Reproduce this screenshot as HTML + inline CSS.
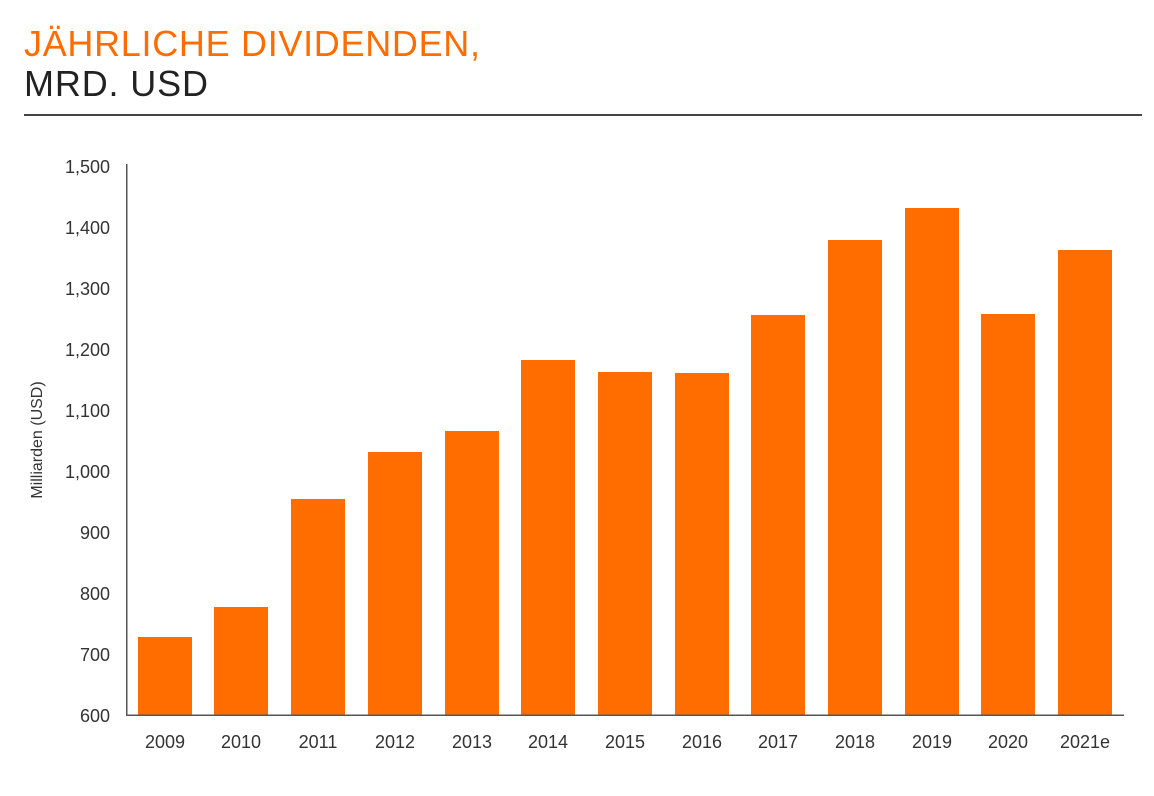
<!DOCTYPE html>
<html><head><meta charset="utf-8"><style>
html,body{margin:0;padding:0;background:#fff;width:1154px;height:796px;overflow:hidden}
svg text{font-family:"Liberation Sans",sans-serif}
</style></head><body>
<svg width="1154" height="796" xmlns="http://www.w3.org/2000/svg">
<text x="24" y="56" font-size="36" fill="#ff6d00" textLength="456" lengthAdjust="spacing">JÄHRLICHE DIVIDENDEN,</text>
<text x="24" y="96" font-size="36" fill="#222" textLength="184" lengthAdjust="spacing">MRD. USD</text>
<rect x="24" y="114" width="1118" height="2" fill="#444"/>
<g font-size="18" fill="#333" text-anchor="end">
<text x="110" y="173">1,500</text><text x="110" y="234">1,400</text><text x="110" y="295">1,300</text>
<text x="110" y="356">1,200</text><text x="110" y="417">1,100</text><text x="110" y="478">1,000</text>
<text x="110" y="539">900</text><text x="110" y="600">800</text><text x="110" y="661">700</text>
<text x="110" y="722">600</text>
</g>
<text transform="translate(42,440) rotate(-90)" font-size="16" fill="#333" text-anchor="middle">Milliarden (USD)</text>
<g fill="#ff6d00">
<rect x="138" y="637" width="54" height="78"/>
<rect x="214" y="607" width="54" height="108"/>
<rect x="291" y="499" width="54" height="216"/>
<rect x="368" y="452" width="54" height="263"/>
<rect x="445" y="431" width="54" height="284"/>
<rect x="521" y="360" width="54" height="355"/>
<rect x="598" y="372" width="54" height="343"/>
<rect x="675" y="373" width="54" height="342"/>
<rect x="751" y="315" width="54" height="400"/>
<rect x="828" y="240" width="54" height="475"/>
<rect x="905" y="208" width="54" height="507"/>
<rect x="981" y="314" width="54" height="401"/>
<rect x="1058" y="250" width="54" height="465"/>
</g>
<rect x="126" y="164" width="1.5" height="552" fill="#555"/>
<rect x="126" y="714.5" width="998" height="1.5" fill="#555"/>
<g font-size="18" fill="#333" text-anchor="middle">
<text x="165" y="748">2009</text><text x="241" y="748">2010</text><text x="318" y="748">2011</text>
<text x="395" y="748">2012</text><text x="472" y="748">2013</text><text x="548" y="748">2014</text>
<text x="625" y="748">2015</text><text x="702" y="748">2016</text><text x="778" y="748">2017</text>
<text x="855" y="748">2018</text><text x="932" y="748">2019</text><text x="1008" y="748">2020</text>
<text x="1085" y="748">2021e</text>
</g>
</svg>
</body></html>
